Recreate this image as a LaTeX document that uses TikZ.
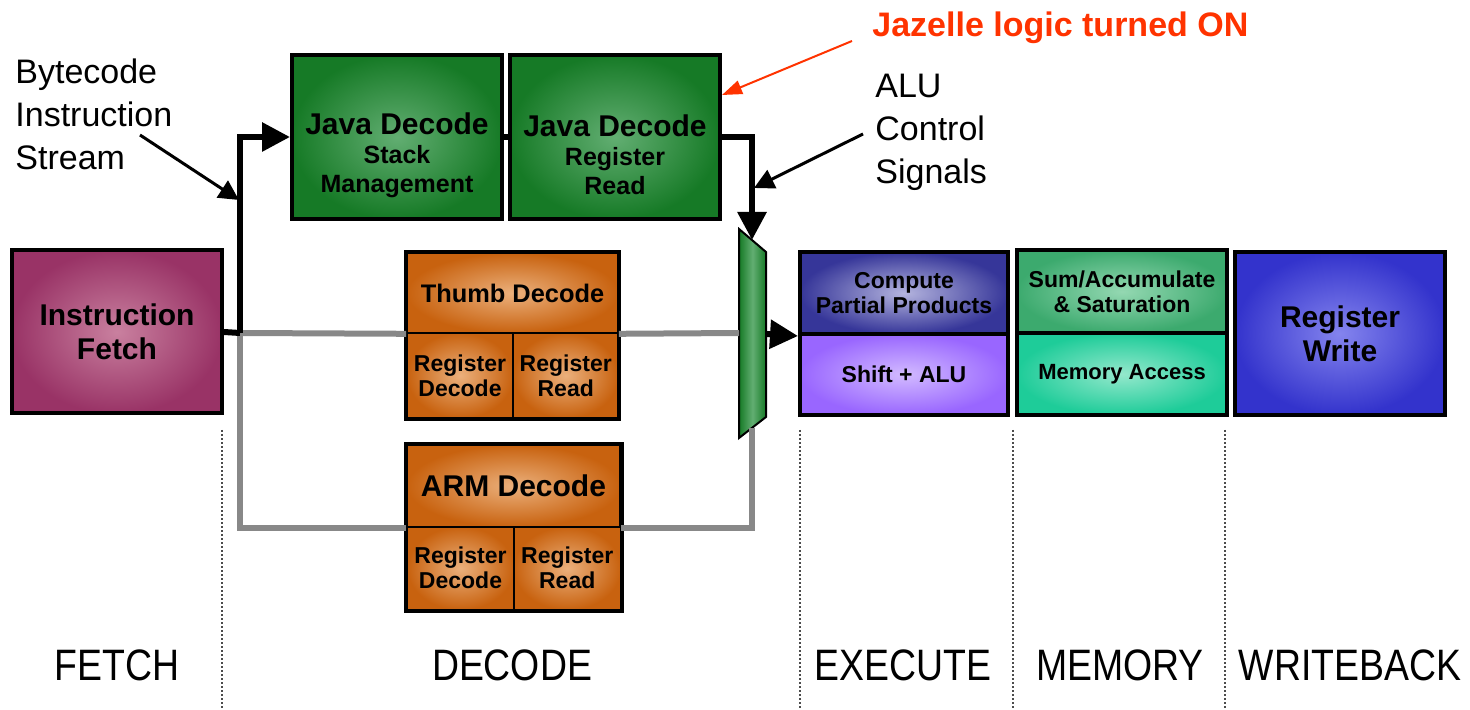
\documentclass[tikz,border=0pt]{standalone}
\usepackage{fontspec}
\setmainfont{Liberation Sans}
\usetikzlibrary{arrows.meta}
\definecolor{fetchdark}{HTML}{993366}
\definecolor{fetchlight}{HTML}{C9809F}
\definecolor{javadark}{HTML}{167A26}
\definecolor{javalight}{HTML}{62AE72}
\definecolor{decdark}{HTML}{C8620F}
\definecolor{declight}{HTML}{EBB07C}
\definecolor{muldark}{HTML}{363699}
\definecolor{mullight}{HTML}{B4B4DE}
\definecolor{aludark}{HTML}{9966FF}
\definecolor{alulight}{HTML}{D2BAFF}
\definecolor{sumdark}{HTML}{3CAA6E}
\definecolor{sumlight}{HTML}{94D8B2}
\definecolor{memdark}{HTML}{1ECC99}
\definecolor{memlight}{HTML}{94E8CC}
\definecolor{wbdark}{HTML}{3333CC}
\definecolor{wblight}{HTML}{8484EE}
\definecolor{wire}{HTML}{888888}
\definecolor{callout}{HTML}{FF3300}
\tikzset{
  block/.style={draw=black,line width=2pt,inner sep=0pt,align=center,
    font=\bfseries\fontsize{15}{17}\selectfont,shading=radial},
  cell/.style={draw=black,line width=0.8pt,inner sep=0pt,align=center,
    font=\bfseries\fontsize{11.5}{12.5}\selectfont,shading=radial},
  stagecell/.style={cell,line width=2pt},
  boxframe/.style={draw=black,line width=2pt},
  javatext/.style={align=center,inner sep=0pt,font=\bfseries\fontsize{12.5}{14.5}\selectfont},
  bus/.style={line width=3pt,draw=black,-{Triangle[length=14pt,width=14pt]}},
  grayline/.style={line width=3pt,draw=wire},
  note/.style={align=left,inner sep=0pt,font=\fontsize{17}{21.5}\selectfont},
  pointer/.style={line width=1.5pt,draw=black,-{Triangle[length=10pt,width=10pt]}},
  stagesep/.style={draw=black!70,line width=0.6pt,dash pattern=on 1pt off 1pt},
  stagename/.style={font=\fontsize{22}{24}\selectfont,inner sep=0pt}
}
\newcommand{\narrow}[1]{\scalebox{0.85}[1]{#1}}

\begin{document}
\begin{tikzpicture}[x=0.5pt,y=-0.5pt]
  \useasboundingbox (0,0) rectangle (1470,710);
  \node[block,minimum width=105pt,minimum height=81.5pt,inner color=fetchlight,outer color=fetchdark] (fetch) at (117,332) {Instruction\\Fetch};
  \node[block,minimum width=105pt,minimum height=82pt,inner color=javalight,outer color=javadark] (javastack) at (397,137) {};
  \node[javatext] (javastacklbl) at ([yshift=-9pt]javastack.center) {{\fontsize{15}{17}\selectfont Java Decode}\\Stack\\Management};
  \node[block,minimum width=105pt,minimum height=82pt,inner color=javalight,outer color=javadark] (javaread) at (615,137) {};
  \node[javatext] (javareadlbl) at ([yshift=-9pt]javaread.center) {{\fontsize{15}{17}\selectfont Java Decode}\\Register\\Read};

  \node[cell,minimum width=105.5pt,minimum height=40pt,inner color=declight,outer color=decdark,font=\bfseries\fontsize{12.7}{14}\selectfont] (thumbtop) at (512.5,293) {Thumb Decode};
  \node[cell,minimum width=53pt,minimum height=42.5pt,inner color=declight,outer color=decdark] (thumbdec) at (460,375.5) {Register\\Decode};
  \node[cell,minimum width=52.5pt,minimum height=42.5pt,inner color=declight,outer color=decdark] (thumbrd) at (565.75,375.5) {Register\\Read};
  \draw[boxframe] (thumbtop.north west) rectangle (thumbrd.south east);

  \node[cell,minimum width=106.5pt,minimum height=41pt,inner color=declight,outer color=decdark,font=\bfseries\fontsize{15}{17}\selectfont] (armtop) at (513.5,486) {ARM Decode};
  \node[cell,minimum width=53pt,minimum height=41.5pt,inner color=declight,outer color=decdark] (armdec) at (460.5,568.25) {Register\\Decode};
  \node[cell,minimum width=53.5pt,minimum height=41.5pt,inner color=declight,outer color=decdark] (armrd) at (567.25,568.25) {Register\\Read};
  \draw[boxframe] (armtop.north west) rectangle (armrd.south east);

  \node[stagecell,minimum width=104pt,minimum height=41pt,inner color=mullight,outer color=muldark] (multop) at (904,293) {Compute\\Partial Products};
  \node[stagecell,minimum width=104pt,minimum height=40.5pt,inner color=alulight,outer color=aludark] (alu) at (904,374.5) {Shift + ALU};
  \node[stagecell,minimum width=105pt,minimum height=41.5pt,inner color=sumlight,outer color=sumdark] (sumacc) at (1122,291.5) {Sum/Accumulate\\\& Saturation};
  \node[stagecell,minimum width=105pt,minimum height=41pt,inner color=memlight,outer color=memdark,font=\bfseries\fontsize{11}{12.5}\selectfont] (memacc) at (1122,374) {Memory Access};
  \node[block,minimum width=105pt,minimum height=81.5pt,inner color=wblight,outer color=wbdark] (regwrite) at (1340,333.5) {Register\\Write};

  \draw[line width=1pt,draw=black,left color=javadark,right color=javadark,middle color=javalight] (739,229) -- (766,252) -- (766,417) -- (739,438) -- cycle;
  \coordinate (split) at (240,333);
  \coordinate (muxin) at (739,333);
  \coordinate (muxout) at (766,334);
  \coordinate (muxtop) at (752,240);
  \coordinate (muxbot) at (752,428);

  \draw[grayline] (split) -- (thumbtop.south west);
  \draw[grayline] (thumbtop.south east) -- (muxin);
  \draw[grayline] (split) |- (armtop.south west);
  \draw[grayline] (armtop.south east) -| (muxbot);
  \draw[bus,-] (fetch.east) -- (split);
  \draw[bus] (split) |- (javastack.west);
  \draw[line width=3pt] (javastack.east) -- (javaread.west);
  \draw[bus] (javaread.east) -| (muxtop);
  \draw[bus] (muxout) -- (multop.south west);

  \node[note,anchor=north west] (bytecode) at (15,58) {Bytecode\\Instruction\\Stream};
  \coordinate (bytetail) at (140,135);
  \coordinate (bytehead) at (239,200);
  \draw[pointer] (bytetail) -- (bytehead);
  \node[note,anchor=north west] (aluctl) at (875,74) {ALU\\Control\\Signals};
  \coordinate (alutail) at (863,134);
  \coordinate (aluhead) at (754,188);
  \draw[pointer] (alutail) -- (aluhead);
  \node[font=\bfseries\fontsize{17}{20}\selectfont,text=callout,inner sep=0pt,anchor=west] (jazelle) at (872,28) {Jazelle logic turned ON};
  \coordinate (jazelletail) at (852,41);
  \draw[line width=1pt,draw=callout,-{Triangle[length=10pt,width=7pt]}] (jazelletail) -- (javaread.north east |- 0,95);

  \foreach \sx in {222,800,1013,1225}
    \draw[stagesep] (\sx,430) -- (\sx,710);
  \node[stagename] (fetchlbl) at (117,665) {\narrow{FETCH}};
  \node[stagename] (decodelbl) at (512,665) {\narrow{DECODE}};
  \node[stagename] (executelbl) at (903,665) {\narrow{EXECUTE}};
  \node[stagename] (memorylbl) at (1120,665) {\narrow{MEMORY}};
  \node[stagename] (writebacklbl) at (1350,665) {\narrow{WRITEBACK}};
\end{tikzpicture}
\end{document}
